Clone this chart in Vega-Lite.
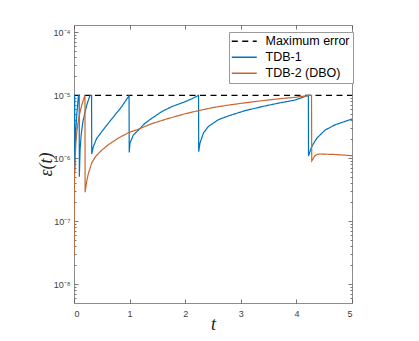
{
  "$schema": "https://vega.github.io/schema/vega-lite/v6.json",
  "width": 278,
  "height": 278,
  "autosize": {"type": "none"},
  "padding": {"left": 74, "top": 25, "right": 67, "bottom": 38},
  "background": "white",
  "config": {
    "view": {"stroke": "#8c8c8c", "strokeWidth": 1},
    "font": "Liberation Sans",
    "axis": {"domain": false, "grid": false, "tickColor": "#555555", "tickWidth": 0.8, "labelFont": "Liberation Sans", "labelColor": "#404040", "labelFontSize": 9}
  },
  "datasets": {
    "curves": [
      {"s": "Maximum error", "t": 0, "v": 1e-5},
      {"s": "Maximum error", "t": 5, "v": 1e-5},
      {"s": "TDB-1", "t": 0, "v": 5e-7},
      {"s": "TDB-1", "t": 0.005, "v": 1e-5},
      {"s": "TDB-1", "t": 0.012, "v": 1e-5},
      {"s": "TDB-1", "t": 0.014, "v": 6.2e-7},
      {"s": "TDB-1", "t": 0.03, "v": 2.5e-6},
      {"s": "TDB-1", "t": 0.05, "v": 5e-6},
      {"s": "TDB-1", "t": 0.08, "v": 1e-5},
      {"s": "TDB-1", "t": 0.093, "v": 1e-5},
      {"s": "TDB-1", "t": 0.096, "v": 5.1e-7},
      {"s": "TDB-1", "t": 0.11, "v": 1.4e-6},
      {"s": "TDB-1", "t": 0.13, "v": 2.4e-6},
      {"s": "TDB-1", "t": 0.16, "v": 3.8e-6},
      {"s": "TDB-1", "t": 0.2, "v": 5.5e-6},
      {"s": "TDB-1", "t": 0.24, "v": 7.5e-6},
      {"s": "TDB-1", "t": 0.27, "v": 9e-6},
      {"s": "TDB-1", "t": 0.29, "v": 1e-5},
      {"s": "TDB-1", "t": 0.316, "v": 1e-5},
      {"s": "TDB-1", "t": 0.319, "v": 1.17e-6},
      {"s": "TDB-1", "t": 0.348, "v": 1.53e-6},
      {"s": "TDB-1", "t": 0.408, "v": 2.07e-6},
      {"s": "TDB-1", "t": 0.498, "v": 2.64e-6},
      {"s": "TDB-1", "t": 0.617, "v": 3.6e-6},
      {"s": "TDB-1", "t": 0.737, "v": 4.87e-6},
      {"s": "TDB-1", "t": 0.858, "v": 6.6e-6},
      {"s": "TDB-1", "t": 0.977, "v": 9.5e-6},
      {"s": "TDB-1", "t": 0.99, "v": 1e-5},
      {"s": "TDB-1", "t": 0.993, "v": 1.24e-6},
      {"s": "TDB-1", "t": 1.007, "v": 1.74e-6},
      {"s": "TDB-1", "t": 1.067, "v": 2.34e-6},
      {"s": "TDB-1", "t": 1.157, "v": 2.8e-6},
      {"s": "TDB-1", "t": 1.277, "v": 3.6e-6},
      {"s": "TDB-1", "t": 1.397, "v": 4.3e-6},
      {"s": "TDB-1", "t": 1.577, "v": 5.5e-6},
      {"s": "TDB-1", "t": 1.757, "v": 6.6e-6},
      {"s": "TDB-1", "t": 1.996, "v": 7.9e-6},
      {"s": "TDB-1", "t": 2.12, "v": 8.8e-6},
      {"s": "TDB-1", "t": 2.24, "v": 1e-5},
      {"s": "TDB-1", "t": 2.243, "v": 1.27e-6},
      {"s": "TDB-1", "t": 2.266, "v": 1.74e-6},
      {"s": "TDB-1", "t": 2.326, "v": 2.5e-6},
      {"s": "TDB-1", "t": 2.416, "v": 3.2e-6},
      {"s": "TDB-1", "t": 2.596, "v": 4.1e-6},
      {"s": "TDB-1", "t": 2.775, "v": 4.7e-6},
      {"s": "TDB-1", "t": 3.075, "v": 5.7e-6},
      {"s": "TDB-1", "t": 3.375, "v": 6.6e-6},
      {"s": "TDB-1", "t": 3.675, "v": 7.5e-6},
      {"s": "TDB-1", "t": 3.975, "v": 8.4e-6},
      {"s": "TDB-1", "t": 4.1, "v": 9.2e-6},
      {"s": "TDB-1", "t": 4.215, "v": 1e-5},
      {"s": "TDB-1", "t": 4.218, "v": 1.09e-6},
      {"s": "TDB-1", "t": 4.275, "v": 1.53e-6},
      {"s": "TDB-1", "t": 4.365, "v": 2.07e-6},
      {"s": "TDB-1", "t": 4.514, "v": 2.8e-6},
      {"s": "TDB-1", "t": 4.694, "v": 3.4e-6},
      {"s": "TDB-1", "t": 5.0, "v": 4.2e-6},
      {"s": "TDB-2 (DBO)", "t": 0, "v": 2.8e-8},
      {"s": "TDB-2 (DBO)", "t": 0.002, "v": 1.2e-7},
      {"s": "TDB-2 (DBO)", "t": 0.005, "v": 3.5e-7},
      {"s": "TDB-2 (DBO)", "t": 0.01, "v": 6e-7},
      {"s": "TDB-2 (DBO)", "t": 0.02, "v": 9e-7},
      {"s": "TDB-2 (DBO)", "t": 0.035, "v": 1.8e-6},
      {"s": "TDB-2 (DBO)", "t": 0.05, "v": 2.6e-6},
      {"s": "TDB-2 (DBO)", "t": 0.075, "v": 3.8e-6},
      {"s": "TDB-2 (DBO)", "t": 0.1, "v": 5e-6},
      {"s": "TDB-2 (DBO)", "t": 0.13, "v": 6.5e-6},
      {"s": "TDB-2 (DBO)", "t": 0.16, "v": 8e-6},
      {"s": "TDB-2 (DBO)", "t": 0.19, "v": 9.6e-6},
      {"s": "TDB-2 (DBO)", "t": 0.197, "v": 1e-5},
      {"s": "TDB-2 (DBO)", "t": 0.2, "v": 2.9e-7},
      {"s": "TDB-2 (DBO)", "t": 0.215, "v": 3.6e-7},
      {"s": "TDB-2 (DBO)", "t": 0.23, "v": 4.4e-7},
      {"s": "TDB-2 (DBO)", "t": 0.26, "v": 5.8e-7},
      {"s": "TDB-2 (DBO)", "t": 0.32, "v": 8.5e-7},
      {"s": "TDB-2 (DBO)", "t": 0.4, "v": 1.1e-6},
      {"s": "TDB-2 (DBO)", "t": 0.5, "v": 1.35e-6},
      {"s": "TDB-2 (DBO)", "t": 0.62, "v": 1.65e-6},
      {"s": "TDB-2 (DBO)", "t": 0.8, "v": 2.1e-6},
      {"s": "TDB-2 (DBO)", "t": 0.98, "v": 2.55e-6},
      {"s": "TDB-2 (DBO)", "t": 1.16, "v": 2.9e-6},
      {"s": "TDB-2 (DBO)", "t": 1.4, "v": 3.55e-6},
      {"s": "TDB-2 (DBO)", "t": 1.7, "v": 4.3e-6},
      {"s": "TDB-2 (DBO)", "t": 2.0, "v": 5.1e-6},
      {"s": "TDB-2 (DBO)", "t": 2.2, "v": 5.6e-6},
      {"s": "TDB-2 (DBO)", "t": 2.5, "v": 6.4e-6},
      {"s": "TDB-2 (DBO)", "t": 2.78, "v": 7.0e-6},
      {"s": "TDB-2 (DBO)", "t": 3.08, "v": 7.6e-6},
      {"s": "TDB-2 (DBO)", "t": 3.38, "v": 8.2e-6},
      {"s": "TDB-2 (DBO)", "t": 3.68, "v": 8.8e-6},
      {"s": "TDB-2 (DBO)", "t": 3.98, "v": 9.3e-6},
      {"s": "TDB-2 (DBO)", "t": 4.25, "v": 1e-5},
      {"s": "TDB-2 (DBO)", "t": 4.272, "v": 1e-5},
      {"s": "TDB-2 (DBO)", "t": 4.276, "v": 9.1e-7},
      {"s": "TDB-2 (DBO)", "t": 4.3, "v": 9.8e-7},
      {"s": "TDB-2 (DBO)", "t": 4.33, "v": 1.09e-6},
      {"s": "TDB-2 (DBO)", "t": 4.37, "v": 1.15e-6},
      {"s": "TDB-2 (DBO)", "t": 4.42, "v": 1.17e-6},
      {"s": "TDB-2 (DBO)", "t": 4.69, "v": 1.15e-6},
      {"s": "TDB-2 (DBO)", "t": 5.0, "v": 1.1e-6}
    ]
  },
  "data": {"name": "curves"},
  "layer": [
    {
      "mark": {"type": "line", "strokeWidth": 1.2, "clip": true},
      "encoding": {
        "x": {"field": "t", "type": "quantitative",
          "scale": {"domain": [0, 5], "nice": false, "zero": false},
          "axis": {"orient": "bottom", "values": [0, 1, 2, 3, 4, 5], "tickSize": -4, "labelPadding": 10,
            "title": "t", "titleFont": "Liberation Serif", "titleFontStyle": "italic", "titleFontWeight": "normal", "titleFontSize": 18, "titleColor": "#262626", "titlePadding": -3}},
        "y": {"field": "v", "type": "quantitative",
          "scale": {"type": "log", "domain": [5.05e-9, 1.306e-4], "nice": false},
          "axis": {"orient": "left", "values": [1e-8, 1e-7, 1e-6, 1e-5, 1e-4], "tickSize": -4, "labelPadding": 8,
            "labelExpr": "'10⁻' + ['⁰','¹','²','³','⁴','⁵','⁶','⁷','⁸','⁹'][round(-log(datum.value)/LN10)]",
            "title": "ε(t)", "titleFont": "Liberation Serif", "titleFontStyle": "italic", "titleFontWeight": "normal", "titleFontSize": 18, "titleColor": "#262626", "titlePadding": -2}},
        "color": {"field": "s", "type": "nominal",
          "scale": {"domain": ["Maximum error", "TDB-1", "TDB-2 (DBO)"], "range": ["#000000", "#0072BD", "#C8662E"]},
          "legend": {"orient": "none", "legendX": 155, "legendY": 7, "title": null, "symbolType": "M-2.5,0H2.5", "symbolSize": 100, "symbolStrokeWidth": 1.5, "symbolOffset": 6,
            "labelFont": "Liberation Sans", "labelFontSize": 12.5, "labelColor": "#000000", "labelOffset": 15,
            "strokeColor": "#9a9a9a", "fillColor": "white", "padding": 3, "rowPadding": 3}},
        "strokeDash": {"field": "s", "type": "nominal",
          "scale": {"domain": ["Maximum error", "TDB-1", "TDB-2 (DBO)"], "range": [[6, 4.5], [1, 0], [1, 0]]},
          "legend": {"orient": "none", "legendX": 155, "legendY": 7, "title": null, "symbolType": "M-2.5,0H2.5", "symbolSize": 100, "symbolStrokeWidth": 1.5, "symbolOffset": 6,
            "labelFont": "Liberation Sans", "labelFontSize": 12.5, "labelColor": "#000000", "labelOffset": 15,
            "strokeColor": "#9a9a9a", "fillColor": "white", "padding": 3, "rowPadding": 3}}
      }
    },
    {
      "mark": {"type": "point", "opacity": 0},
      "encoding": {
        "x": {"field": "t", "type": "quantitative", "scale": {"domain": [0, 5], "nice": false, "zero": false},
          "axis": {"orient": "top", "values": [0, 1, 2, 3, 4, 5], "tickSize": -4, "labels": false, "title": null}},
        "y": {"field": "v", "type": "quantitative", "scale": {"type": "log", "domain": [5.05e-9, 1.306e-4], "nice": false},
          "axis": {"orient": "right", "values": [1e-8, 1e-7, 1e-6, 1e-5, 1e-4], "tickSize": -4, "labels": false, "title": null}}
      }
    },
    {
      "mark": {"type": "point", "opacity": 0},
      "encoding": {
        "x": {"field": "t", "type": "quantitative", "scale": {"domain": [0, 5], "nice": false, "zero": false}, "axis": null},
        "y": {"field": "v", "type": "quantitative", "scale": {"type": "log", "domain": [5.05e-9, 1.306e-4], "nice": false},
          "axis": {"orient": "left", "values": [6e-9, 7e-9, 8e-9, 9e-9, 2e-8, 3e-8, 4e-8, 5e-8, 6e-8, 7e-8, 8e-8, 9e-8, 2e-7, 3e-7, 4e-7, 5e-7, 6e-7, 7e-7, 8e-7, 9e-7, 2e-6, 3e-6, 4e-6, 5e-6, 6e-6, 7e-6, 8e-6, 9e-6, 2e-5, 3e-5, 4e-5, 5e-5, 6e-5, 7e-5, 8e-5, 9e-5], "tickSize": -2, "labels": false, "title": null}}
      }
    },
    {
      "mark": {"type": "point", "opacity": 0},
      "encoding": {
        "x": {"field": "t", "type": "quantitative", "scale": {"domain": [0, 5], "nice": false, "zero": false}, "axis": null},
        "y": {"field": "v", "type": "quantitative", "scale": {"type": "log", "domain": [5.05e-9, 1.306e-4], "nice": false},
          "axis": {"orient": "right", "values": [6e-9, 7e-9, 8e-9, 9e-9, 2e-8, 3e-8, 4e-8, 5e-8, 6e-8, 7e-8, 8e-8, 9e-8, 2e-7, 3e-7, 4e-7, 5e-7, 6e-7, 7e-7, 8e-7, 9e-7, 2e-6, 3e-6, 4e-6, 5e-6, 6e-6, 7e-6, 8e-6, 9e-6, 2e-5, 3e-5, 4e-5, 5e-5, 6e-5, 7e-5, 8e-5, 9e-5], "tickSize": -2, "labels": false, "title": null}}
      }
    }
  ],
  "resolve": {"axis": {"x": "independent", "y": "independent"}}
}
